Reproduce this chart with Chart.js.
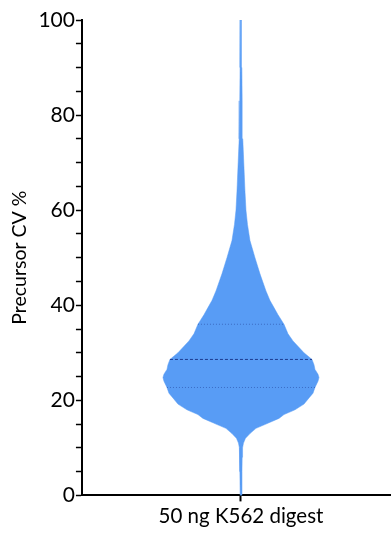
<!DOCTYPE html>
<html>
<head>
<meta charset="utf-8">
<script src="https://cdn.jsdelivr.net/npm/chart.js@4.4.1/dist/chart.umd.min.js"></script>
<style>
  body { margin: 0; background: #fff; }
</style>
</head>
<body>
<canvas id="violin" width="391" height="533"></canvas>
<script>
var category = "50 ng K562 digest";

// CV levels (%) and the violin half-width (density, relative) at each level
var cvLevels = [0, 5, 8, 10, 11, 12, 13, 14.1, 15, 16.2, 17, 18, 19.2, 20.5, 21.5, 22.7, 24, 24.8, 25.5, 26.5, 27.5, 28.6, 30, 32.5, 34, 36, 38, 39.5, 41, 43, 46.6, 50, 53.6, 57, 60, 64, 70, 75, 83, 90, 100];
var density = [0.008, 0.01, 0.012, 0.016, 0.025, 0.045, 0.09, 0.15, 0.25, 0.38, 0.43, 0.54, 0.63, 0.68, 0.72, 0.74, 0.77, 0.78, 0.77, 0.74, 0.73, 0.71, 0.63, 0.52, 0.47, 0.43, 0.37, 0.33, 0.29, 0.25, 0.19, 0.14, 0.09, 0.065, 0.05, 0.04, 0.028, 0.018, 0.012, 0.009, 0.005];

var lowerQuartile = 22.7;
var median = 28.6;
var upperQuartile = 36;

var yTicks = [0, 20, 40, 60, 80, 100];

var violinColor = "#589cf5";

// closed outline: right edge going up, left edge coming back down
var outline = [];
for (var i = 0; i < cvLevels.length; i++) {
  outline.push({x: density[i], y: cvLevels[i]});
}
for (var j = cvLevels.length - 1; j >= 0; j--) {
  outline.push({x: -density[j], y: cvLevels[j]});
}
outline.push({x: density[0], y: cvLevels[0]});

function widthAt(cv) {
  var k = cvLevels.indexOf(cv);
  return density[k];
}

function hline(cv) {
  var w = widthAt(cv);
  return [{x: -w, y: cv}, {x: w, y: cv}];
}

new Chart("violin", {
  type: "scatter",
  data: {
    datasets: [
      {
        data: outline,
        order: 10,
        showLine: true,
        fill: "shape",
        backgroundColor: violinColor,
        borderColor: violinColor,
        borderWidth: 0.5,
        borderJoinStyle: "round",
        pointRadius: 0,
        tension: 0
      },
      {
        data: hline(median),
        order: 1,
        showLine: true,
        borderColor: "#1d3b8f",
        borderWidth: 1,
        borderDash: [3, 2],
        pointRadius: 0
      },
      {
        data: hline(lowerQuartile),
        order: 1,
        showLine: true,
        borderColor: "#3b6cc4",
        borderWidth: 1,
        borderDash: [1, 2],
        pointRadius: 0
      },
      {
        data: hline(upperQuartile),
        order: 1,
        showLine: true,
        borderColor: "#3b6cc4",
        borderWidth: 1,
        borderDash: [1, 2],
        pointRadius: 0
      }
    ]
  },
  options: {
    responsive: false,
    animation: false,
    layout: { padding: { top: 20, right: 0, bottom: 1, left: 8 } },
    plugins: {
      legend: { display: false },
      tooltip: { enabled: false }
    },
    scales: {
      x: {
        type: "linear",
        min: -1.59,
        max: 1.50,
        afterBuildTicks: function (axis) {
          axis.ticks = [{value: 0}];
        },
        ticks: {
          color: "#000",
          font: { family: "Lato", size: 20.5 },
          padding: 3,
          callback: function () { return category; }
        },
        grid: { drawOnChartArea: false, tickLength: 6, color: "#000", tickWidth: 2 },
        border: { color: "#000", width: 2 }
      },
      y: {
        min: 0,
        max: 100,
        ticks: {
          stepSize: 5,
          autoSkip: false,
          color: "#000",
          font: { family: "Lato", size: 21 },
          padding: 1,
          callback: function (v) { return yTicks.indexOf(v) >= 0 ? v : ""; }
        },
        grid: { drawOnChartArea: false, tickLength: 6, color: "#000", tickWidth: 1.5 },
        border: { color: "#000", width: 2 },
        title: {
          display: true,
          text: "Precursor CV %",
          color: "#000",
          font: { family: "Lato", size: 19.5 },
          padding: { top: 0, bottom: 6 }
        }
      }
    }
  }
});
</script>
</body>
</html>
